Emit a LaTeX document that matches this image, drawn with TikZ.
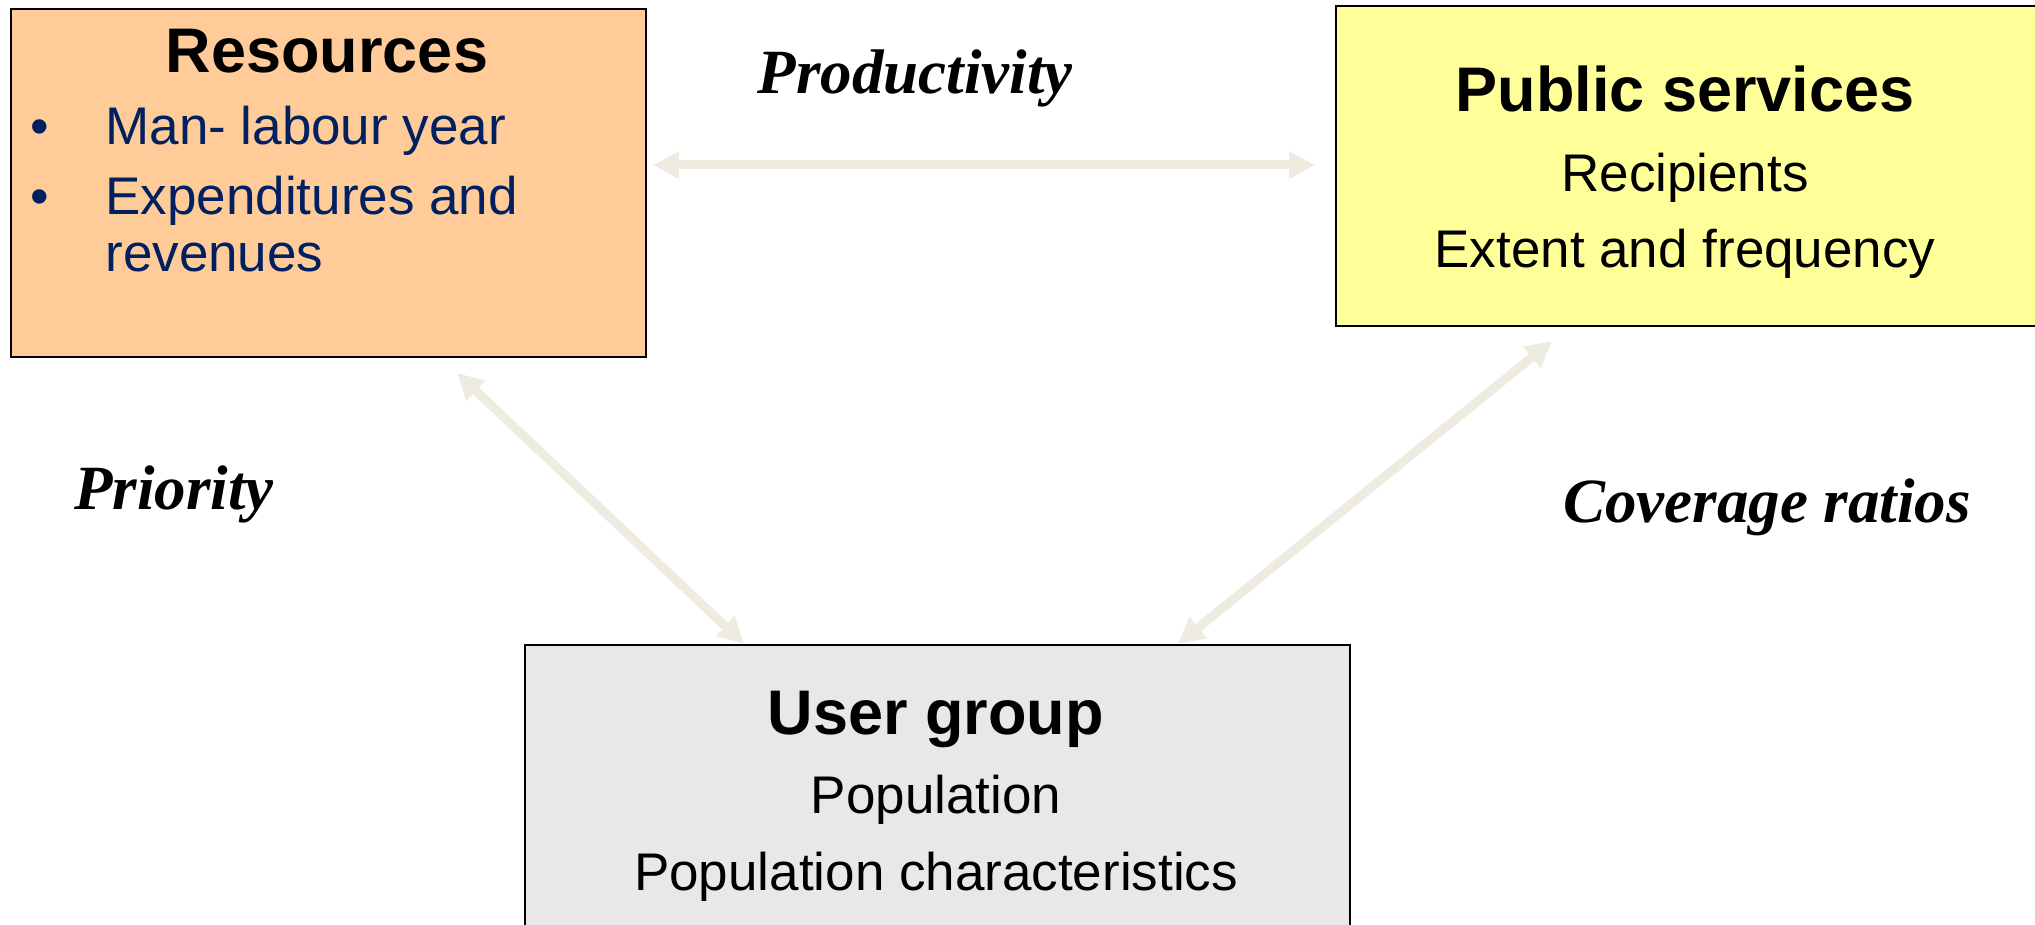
\documentclass[tikz,border=0pt]{standalone}
\usepackage{fontspec}
\setmainfont{Liberation Sans}
\newfontfamily\ratiofont{Liberation Serif}
\usetikzlibrary{arrows.meta}

\definecolor{resfill}{RGB}{255,204,153}
\definecolor{pubfill}{RGB}{255,255,153}
\definecolor{usrfill}{RGB}{232,232,232}
\definecolor{navy}{RGB}{0,32,96}
\definecolor{linkgray}{RGB}{238,236,225}

\tikzset{
  box/.style={draw=black, line width=1.2pt, inner sep=0pt, anchor=north west},
  boxtitle/.style={font=\fontsize{31.5}{36}\selectfont\bfseries, anchor=base, inner sep=0pt},
  boxline/.style={font=\fontsize{26.5}{30}\selectfont, anchor=base, inner sep=0pt},
  ratio/.style={font=\ratiofont\fontsize{31.5}{36}\selectfont\bfseries\itshape, anchor=base, inner sep=0pt},
  link/.style={draw=linkgray, line width=4.5pt,
    {Triangle[width=13pt,length=13pt]}-{Triangle[width=13pt,length=13pt]}},
}

\begin{document}
\begin{tikzpicture}[x=0.5pt,y=0.5pt,yscale=-1,xscale=1]
\useasboundingbox (0,0) rectangle (2035,925);

%Boxes
\node [box, fill=resfill, minimum width=317.5pt, minimum height=174pt] (res) at (10,8) {};
\node [box, fill=pubfill, minimum width=355pt, minimum height=160pt] (pub) at (1335,5) {};
\node [box, fill=usrfill, minimum width=412.5pt, minimum height=145.5pt] (usr) at (524,644) {};

%Resources
\node [boxtitle] (res-title) at (327,73) {Resources};
\node [boxline, text=navy] (res-dot1) at (40,145) {\textbullet};
\node [boxline, text=navy, anchor=base west] (res-item1) at (105,145) {Man- labour year};
\node [boxline, text=navy] (res-dot2) at (40,215) {\textbullet};
\node [boxline, text=navy, anchor=base west] (res-item2) at (105,215) {Expenditures and};
\node [boxline, text=navy, anchor=base west] (res-item3) at (105,272) {revenues};

%Public services
\node [boxtitle] (pub-title) at (1685,112) {Public services};
\node [boxline] (pub-item1) at (1685,192) {Recipients};
\node [boxline] (pub-item2) at (1685,268) {Extent and frequency};

%User group
\node [boxtitle] (usr-title) at (936,734) {User group};
\node [boxline] (usr-item1) at (936,813) {Population};
\node [boxline] (usr-item2) at (936,890) {Population characteristics};

%Ratios
\node [ratio] (prod) at (915,94) {Productivity};
\node [ratio] (prio) at (174,509) {Priority};
\node [ratio] (cover) at (1767,522) {Coverage ratios};

%Arrow ends
\coordinate (res-east) at (653,165);
\coordinate (pub-west) at (1315,165);
\coordinate (res-south) at (457,373);
\coordinate (usr-nw) at (744,644);
\coordinate (pub-south) at (1552,341);
\coordinate (usr-ne) at (1178,644);

\draw [link] (res-east) -- (pub-west);
\draw [link] (res-south) -- (usr-nw);
\draw [link] (pub-south) -- (usr-ne);
\end{tikzpicture}
\end{document}
